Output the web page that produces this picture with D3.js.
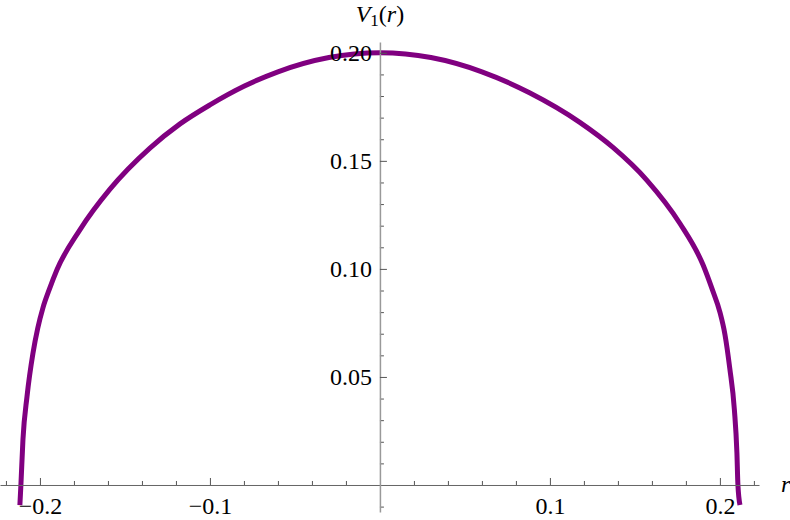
<!DOCTYPE html>
<html>
<head>
<meta charset="utf-8">
<script src="https://cdn.jsdelivr.net/npm/d3@7"></script>
<style>
  body { margin: 0; background: #fff; }
  text { font-family: "Liberation Serif", "DejaVu Serif", serif; }
</style>
</head>
<body>
<div id="chart"></div>
<script>
// curve values
var rVals = [-0.2118, -0.2112, -0.2100, -0.2076, -0.2041, -0.2013, -0.1982, -0.1945, -0.1900, -0.1765,
             -0.1588, -0.1353, -0.1176, -0.1000, -0.0800, -0.0600, -0.0300, 0, 0.0300, 0.0600,
             0.0880, 0.1176, 0.1371, 0.1571, 0.1765, 0.1900, 0.1955, 0.2000, 0.2030, 0.2058,
             0.2085, 0.2100, 0.2106, 0.2118];
var vVals = [-0.0093, 0, 0.0210, 0.0410, 0.0610, 0.0725, 0.0821, 0.0905, 0.0996, 0.1181,
             0.1369, 0.1559, 0.1671, 0.1759, 0.1845, 0.1912, 0.1978, 0.2000, 0.1978, 0.1912,
             0.1815, 0.1678, 0.1562, 0.1410, 0.1210, 0.1020, 0.0905, 0.0800, 0.0695, 0.0540,
             0.0350, 0.0150, 0, -0.0093];

// ticks
var xMajor = [-0.2, -0.1, 0.1, 0.2];
var xMinor = [-0.22, -0.18, -0.16, -0.14, -0.12, -0.08, -0.06, -0.04, -0.02, 0.02, 0.04, 0.06, 0.08, 0.12, 0.14, 0.16, 0.18, 0.22];
var xTickLabels = ["\u22120.2", "\u22120.1", "0.1", "0.2"];
var yMajor = [0.05, 0.10, 0.15, 0.20];
var yMinor = [-0.01, 0.01, 0.02, 0.03, 0.04, 0.06, 0.07, 0.08, 0.09, 0.11, 0.12, 0.13, 0.14, 0.16, 0.17, 0.18, 0.19];
var yTickLabels = ["0.05", "0.10", "0.15", "0.20"];

var width = 790, height = 520;

var svg = d3.select("#chart")
  .append("svg")
  .attr("width", width)
  .attr("height", height);

// scales
var x = d3.scaleLinear()
  .domain([-0.2235, 0.223])
  .range([0, 759]);

var y = d3.scaleLinear()
  .domain([-0.0125, 0.205])
  .range([512, 42]);

var data = rVals.map(function(r, i) { return {r: r, v: vVals[i]}; });

// the curve
var line = d3.line()
  .x(function(d) { return x(d.r); })
  .y(function(d) { return y(d.v); })
  .curve(d3.curveMonotoneX);

svg.append("path")
  .datum(data)
  .attr("fill", "none")
  .attr("stroke", "#800080")
  .attr("stroke-width", 5)
  .attr("d", line);

// x axis, ticks pointing up
var xAxis = svg.append("g")
  .attr("transform", "translate(0," + y(0) + ")");

xAxis.append("g")
  .call(d3.axisBottom(x).tickValues(xMinor).tickSize(-4).tickSizeOuter(0).tickFormat(""))
  .call(function(g) { g.select(".domain").remove(); });

xAxis.append("g")
  .call(d3.axisBottom(x).tickValues(xMajor).tickSize(-7).tickSizeOuter(0).tickPadding(12)
    .tickFormat(function(d, i) { return xTickLabels[i]; }))
  .call(function(g) { g.select(".domain").attr("stroke", "#666"); })
  .selectAll("text")
  .attr("fill", "#000")
  .style("font-size", "24px");

xAxis.selectAll(".tick line").attr("stroke", "#555");

// y axis, ticks pointing right
var yAxis = svg.append("g")
  .attr("transform", "translate(" + x(0) + ",0)");

yAxis.append("g")
  .call(d3.axisLeft(y).tickValues(yMinor).tickSize(-4).tickSizeOuter(0).tickFormat(""))
  .call(function(g) { g.select(".domain").remove(); });

yAxis.append("g")
  .call(d3.axisLeft(y).tickValues(yMajor).tickSize(-7).tickSizeOuter(0).tickPadding(8)
    .tickFormat(function(d, i) { return yTickLabels[i]; }))
  .call(function(g) { g.select(".domain").attr("stroke", "#999").attr("stroke-width", 1.5); })
  .selectAll("text")
  .attr("fill", "#000")
  .style("font-size", "24px");

yAxis.selectAll(".tick line").attr("stroke", "#555");

// axis titles
var yTitle = svg.append("text")
  .attr("x", x(0))
  .attr("y", 22)
  .attr("text-anchor", "middle")
  .style("font-size", "24px");
yTitle.append("tspan").style("font-style", "italic").text("V");
yTitle.append("tspan").attr("dy", 4).style("font-size", "17px").text("1");
yTitle.append("tspan").attr("dy", -4).text("(");
yTitle.append("tspan").style("font-style", "italic").text("r");
yTitle.append("tspan").text(")");

svg.append("text")
  .attr("x", 781)
  .attr("y", 492)
  .style("font-size", "24px")
  .style("font-style", "italic")
  .text("r");
</script>
</body>
</html>
